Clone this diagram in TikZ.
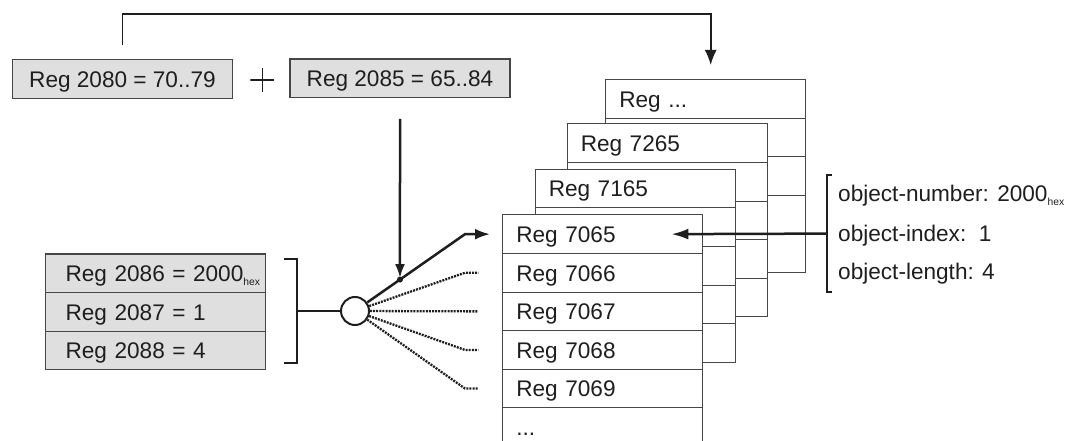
\documentclass[tikz,border=0pt]{standalone}
\usepackage{fontspec}
\setmainfont{Liberation Sans}
\usetikzlibrary{arrows.meta,calc}
\definecolor{boxfill}{RGB}{223,223,223}
\definecolor{edge}{RGB}{70,70,70}
\definecolor{ink}{RGB}{30,30,30}
\newcommand\hexsub{\raisebox{-4pt}{\fontsize{10.3}{11}\selectfont hex}}
\tikzset{
 every node/.style={font=\fontsize{22.6}{26}\selectfont, text=ink},
 topbox/.style={draw=edge, line width=1.2pt, fill=boxfill, minimum width=220pt, minimum height=38.8pt, inner sep=0pt, text height=18pt, text depth=1.5pt},
 lrow/.style={draw=edge, line width=1.2pt, fill=boxfill, text width=220pt, inner xsep=0pt, inner ysep=0pt, align=left, minimum height=38.6pt, anchor=north west, text height=18pt, text depth=1.5pt},
 trow/.style={draw=edge, line width=1.1pt, fill=white, text width=200pt, inner xsep=0pt, inner ysep=0pt, align=left, minimum height=38.6pt, anchor=north west, text height=18pt, text depth=1.5pt},
 conn/.style={line width=2.5pt, draw=ink},
 dotconn/.style={line width=2.3pt, draw=ink, dash pattern=on 2pt off 1.1pt},
 tip/.style={-{Latex[length=15pt,width=11pt]}},
 bracket/.style={line width=2pt, draw=ink},
 plussign/.style={minimum size=24pt, inner sep=0pt, path picture={
   \draw[ink, line width=1.4pt] (path picture bounding box.north) -- (path picture bounding box.south)
     (path picture bounding box.west) -- (path picture bounding box.east);}},
}
\newcommand\lpad{\hspace*{20pt}}
\newcommand\tpad{\hspace*{13.5pt}}
\begin{document}
\begin{tikzpicture}[x=1pt,y=-1pt]
\useasboundingbox (0,0) rectangle (1074,441);
% top boxes
\node[topbox] (box1) at (122.5,78.8) {Reg 2080 = 70..79};
\node[topbox] (box2) at (400,78.4) {Reg 2085 = 65..84};
\node[plussign] (plus) at (262.3,80) {};
% left stack
\node[lrow] (l0) at (45,253.3) {\lpad Reg 2086 = 2000\hexsub};
\node[lrow] (l1) at (45,291.9) {\lpad Reg 2087 = 1};
\node[lrow] (l2) at (45,330.5) {\lpad Reg 2088 = 4};
% tables (back to front)
\foreach \k/\x/\y/\lab in {3/605.3/79/{Reg ...}, 2/566.7/123.3/{Reg 7265}, 1/534.7/168.7/{Reg 7165}}{
  \node[trow] (t\k r0) at (\x,\y) {\tpad\lab};
  \foreach \j in {1,...,4}{ \node[trow] (t\k r\j) at (\x,\y+\j*38.6) {}; }
}
\foreach \j/\lab in {0/{Reg 7065},1/{Reg 7066},2/{Reg 7067},3/{Reg 7068},4/{Reg 7069},5/{...}}{
  \node[trow] (t0r\j) at (502.3,214.3+\j*38.6) {\tpad\lab};
}
% left bracket and circle
\draw[bracket] (284,259.3) -- (296.7,259.3) -- (296.7,362.7) -- (284,362.7);
\coordinate (lb) at (296.7,311);
\node[circle, draw=ink, line width=2pt, fill=white, minimum size=28pt, inner sep=0pt] (circ) at (355,311) {};
\draw[conn] (lb) -- (circ);
\coordinate (jx) at (465,0);
\draw[conn, tip] (circ) -- (jx |- t0r0.west) -- ([xshift=-12.3pt]t0r0.west);
\foreach \j in {1,2,3,4}{
  \draw[dotconn] (circ) -- (jx |- t0r\j.west) -- ([xshift=-24pt]t0r\j.west);
}
\coordinate (dot) at ($(circ.center)!0.409!(jx |- t0r0.west)$);
\fill[ink] (dot) circle (3pt);
\draw[conn, -{Latex[length=14pt,width=10pt]}, shorten >=1.5pt] ([yshift=-20.6pt]box2.south) -- (dot);
% top connector
\coordinate (ttop) at (710.7,14);
\draw[line width=1.7pt, draw=ink, -{Latex[length=15pt,width=12pt]}] ([yshift=13.3pt]box1.north) |- (ttop) -- ([yshift=14pt]ttop |- t3r0.north);
% right bracket and texts
\draw[bracket] (832,175) -- (826.7,175) -- (826.7,291.7) -- (832,291.7);
\coordinate (rb) at (826.7,233.6);
\draw[conn, -{Latex[length=17pt,width=11pt]}] (rb) -- ([xshift=-32pt]t0r0.east);
\node[anchor=base west, inner sep=0pt] (onum) at (838,201.7) {object-number: 2000\hexsub};
\node[anchor=base west, inner sep=0pt] (oidx) at (838,241.3) {object-index:\ \ 1};
\node[anchor=base west, inner sep=0pt] (olen) at (838,279) {object-length: 4};
\end{tikzpicture}
\end{document}
